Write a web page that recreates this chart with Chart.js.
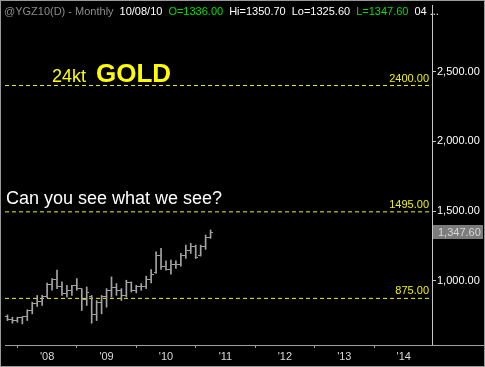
<!DOCTYPE html>
<html>
<head>
<meta charset="utf-8">
<script src="https://cdn.jsdelivr.net/npm/chart.js@4.4.1/dist/chart.umd.min.js"></script>
<style>
  html, body { margin: 0; padding: 0; background: #000; }
  #wrap { width: 485px; height: 367px; }
</style>
</head>
<body>
<div id="wrap"><canvas id="myChart" width="485" height="367"></canvas></div>
<script>
// months counted from Jan 2008 (0 = Jan '08), May '07 .. Oct '10
const months = [];
for (let m = -8; m <= 33; m++) months.push(m);

const opens  = [745, 725, 716, 736, 742, 788, 840, 850, 890, 975, 1010, 960, 910, 935, 965, 945, 865, 890, 760, 845,
                890, 935, 950, 930, 895, 990, 935, 960, 960, 1010, 1060, 1185, 1100, 1085, 1120, 1115, 1180, 1215, 1245, 1180, 1250, 1310];
const highs  = [757, 740, 740, 744, 793, 848, 896, 896, 985, 1017, 1077, 993, 969, 969, 1017, 945, 957, 896, 860, 896,
                945, 1029, 981, 945, 1005, 993, 969, 981, 1034, 1082, 1209, 1233, 1144, 1149, 1144, 1197, 1257, 1269, 1257, 1257, 1329, 1365];
const lows   = [716, 697, 704, 692, 716, 764, 817, 824, 880, 933, 945, 897, 885, 897, 933, 788, 824, 697, 716, 764,
                812, 884, 897, 860, 885, 921, 914, 933, 945, 986, 1053, 1082, 1077, 1048, 1089, 1106, 1161, 1197, 1161, 1178, 1226, 1305];
const closes = [725, 716, 736, 742, 788, 840, 850, 890, 975, 1010, 960, 910, 935, 965, 945, 865, 920, 760, 845, 890,
                935, 950, 930, 895, 990, 935, 960, 960, 1010, 1045, 1185, 1100, 1085, 1120, 1115, 1180, 1215, 1245, 1170, 1250, 1310, 1347.6];

const levels = [2400, 1495, 875];
const levelLabels = ['2400.00', '1495.00', '875.00'];

const yTicks = [1000, 1500, 2000, 2500];
const yTickLabels = ['1,000.00', '1,500.00', '2,000.00', '2,500.00'];
const xTicks = [0, 12, 24, 36, 48, 60, 72];
const xTickLabels = ["'08", "'09", "'10", "'11", "'12", "'13", "'14"];

const headerParts = ['@YGZ10(D) - Monthly', '10/08/10', 'O=1336.00', 'Hi=1350.70', 'Lo=1325.60', 'L=1347.60', '04 ...'];
const lastLabel = '1,347.60';

const xMin = -8.5, xMax = 77.7;
const yMin = 541, yMax = 2977;
const FONT = '"Liberation Sans", Arial, sans-serif';
const BAR = '#a4a4a4';

// little canvases used as point styles for the open (left) and close (right) ticks
function tickImage(side) {
  const c = document.createElement('canvas');
  c.width = 5; c.height = 1;
  const g = c.getContext('2d');
  g.fillStyle = BAR;
  if (side === 'left') g.fillRect(0, 0, 2, 1);
  else g.fillRect(3, 0, 2, 1);
  return c;
}
const openImg = tickImage('left');
const closeImg = tickImage('right');

const levelSets = levels.map(v => ({
  type: 'line',
  data: [{x: xMin, y: v}, {x: xMax, y: v}],
  borderColor: '#f2f200',
  borderWidth: 1,
  borderDash: [4, 3],
  pointRadius: 0,
  order: 5
}));

const overlay = {
  id: 'overlay',
  beforeDraw(chart) {
    const c = chart.ctx;
    c.save();
    c.fillStyle = '#000';
    c.fillRect(0, 0, chart.width, chart.height);
    c.restore();
  },
  afterDraw(chart) {
    const c = chart.ctx;
    const ys = chart.scales.y;
    const area = chart.chartArea;
    c.save();

    // level labels
    c.font = '11px ' + FONT;
    c.fillStyle = '#f0f000';
    c.textAlign = 'right';
    c.textBaseline = 'alphabetic';
    levels.forEach((v, i) => {
      c.fillText(levelLabels[i], area.right - 3, Math.round(ys.getPixelForValue(v)) - 4);
    });

    // annotations
    c.textAlign = 'left';
    const goldY = Math.round(ys.getPixelForValue(levels[0])) - 4;
    c.fillStyle = '#ffff00';
    c.font = '18px ' + FONT;
    c.fillText('24kt', 52, goldY);
    c.font = 'bold 26px ' + FONT;
    c.fillText('GOLD', 96, goldY);

    c.fillStyle = '#ffffff';
    c.font = '18px ' + FONT;
    c.fillText('Can you see what we see?', 6, Math.round(ys.getPixelForValue(levels[1])) - 8);

    // header
    c.font = '11px ' + FONT;
    const colors = ['#8c8c8c', '#ffffff', '#00e000', '#ffffff', '#ffffff', '#00e000', '#ffffff'];
    let x = 4;
    headerParts.forEach((t, i) => {
      c.fillStyle = colors[i];
      c.fillText(t, x, 15);
      x += c.measureText(t).width + 6;
    });

    // last price box
    const ly = Math.round(ys.getPixelForValue(closes[closes.length - 1]));
    c.fillStyle = '#7c7c7c';
    c.fillRect(area.right + 1, ly - 7, 50, 14);
    c.fillStyle = '#d6d6d6';
    c.textAlign = 'left';
    c.textBaseline = 'middle';
    c.fillText(lastLabel, area.right + 6, ly + 1);

    // x axis line continues under the price scale, and outer frame
    c.strokeStyle = '#a0a0a0';
    c.lineWidth = 1;
    c.beginPath();
    c.moveTo(area.right, area.bottom + 0.5);
    c.lineTo(chart.width, area.bottom + 0.5);
    c.stroke();
    c.strokeStyle = '#9a9a9a';
    c.strokeRect(0.5, 0.5, chart.width - 1, chart.height - 1);
    c.restore();
  }
};

const ctx = document.getElementById('myChart').getContext('2d');
const myChart = new Chart(ctx, {
  data: {
    datasets: [
      {
        type: 'bar',
        data: months.map((m, i) => ({x: m, y: [lows[i], highs[i]]})),
        backgroundColor: BAR,
        borderWidth: 0,
        barThickness: 1,
        order: 1
      },
      {
        type: 'line',
        data: months.map((m, i) => ({x: m, y: opens[i]})),
        showLine: false,
        pointStyle: openImg,
        pointRadius: 3,
        order: 0
      },
      {
        type: 'line',
        data: months.map((m, i) => ({x: m, y: closes[i]})),
        showLine: false,
        pointStyle: closeImg,
        pointRadius: 3,
        order: 0
      },
      ...levelSets
    ]
  },
  options: {
    responsive: false,
    animation: false,
    events: [],
    layout: { padding: { left: 1, top: 1, right: 0, bottom: 1 } },
    plugins: {
      legend: { display: false },
      tooltip: { enabled: false }
    },
    scales: {
      x: {
        type: 'linear',
        min: xMin,
        max: xMax,
        offset: false,
        afterBuildTicks: s => { s.ticks = xTicks.map(v => ({value: v})); },
        afterFit: s => { s.height = 21; s.paddingLeft = 0; s.paddingRight = 0; },
        grid: { drawOnChartArea: false, drawTicks: true, tickLength: 3, color: '#a0a0a0' },
        border: { display: true, color: '#a0a0a0' },
        ticks: {
          color: '#d8d8d8',
          font: { family: FONT, size: 11 },
          padding: 2,
          maxRotation: 0,
          autoSkip: false,
          callback: v => xTickLabels[xTicks.indexOf(v)]
        }
      },
      y: {
        position: 'right',
        min: yMin,
        max: yMax,
        afterBuildTicks: s => { s.ticks = yTicks.map(v => ({value: v})); },
        afterFit: s => { s.width = 53; s.paddingTop = 0; s.paddingBottom = 0; },
        grid: { drawOnChartArea: false, drawTicks: true, tickLength: 4, color: '#c8c8c8' },
        border: { display: true, color: '#c8c8c8' },
        ticks: {
          color: '#ffffff',
          font: { family: FONT, size: 11 },
          padding: 1,
          autoSkip: false,
          callback: v => yTickLabels[yTicks.indexOf(v)]
        }
      }
    }
  },
  plugins: [overlay]
});
</script>
</body>
</html>
